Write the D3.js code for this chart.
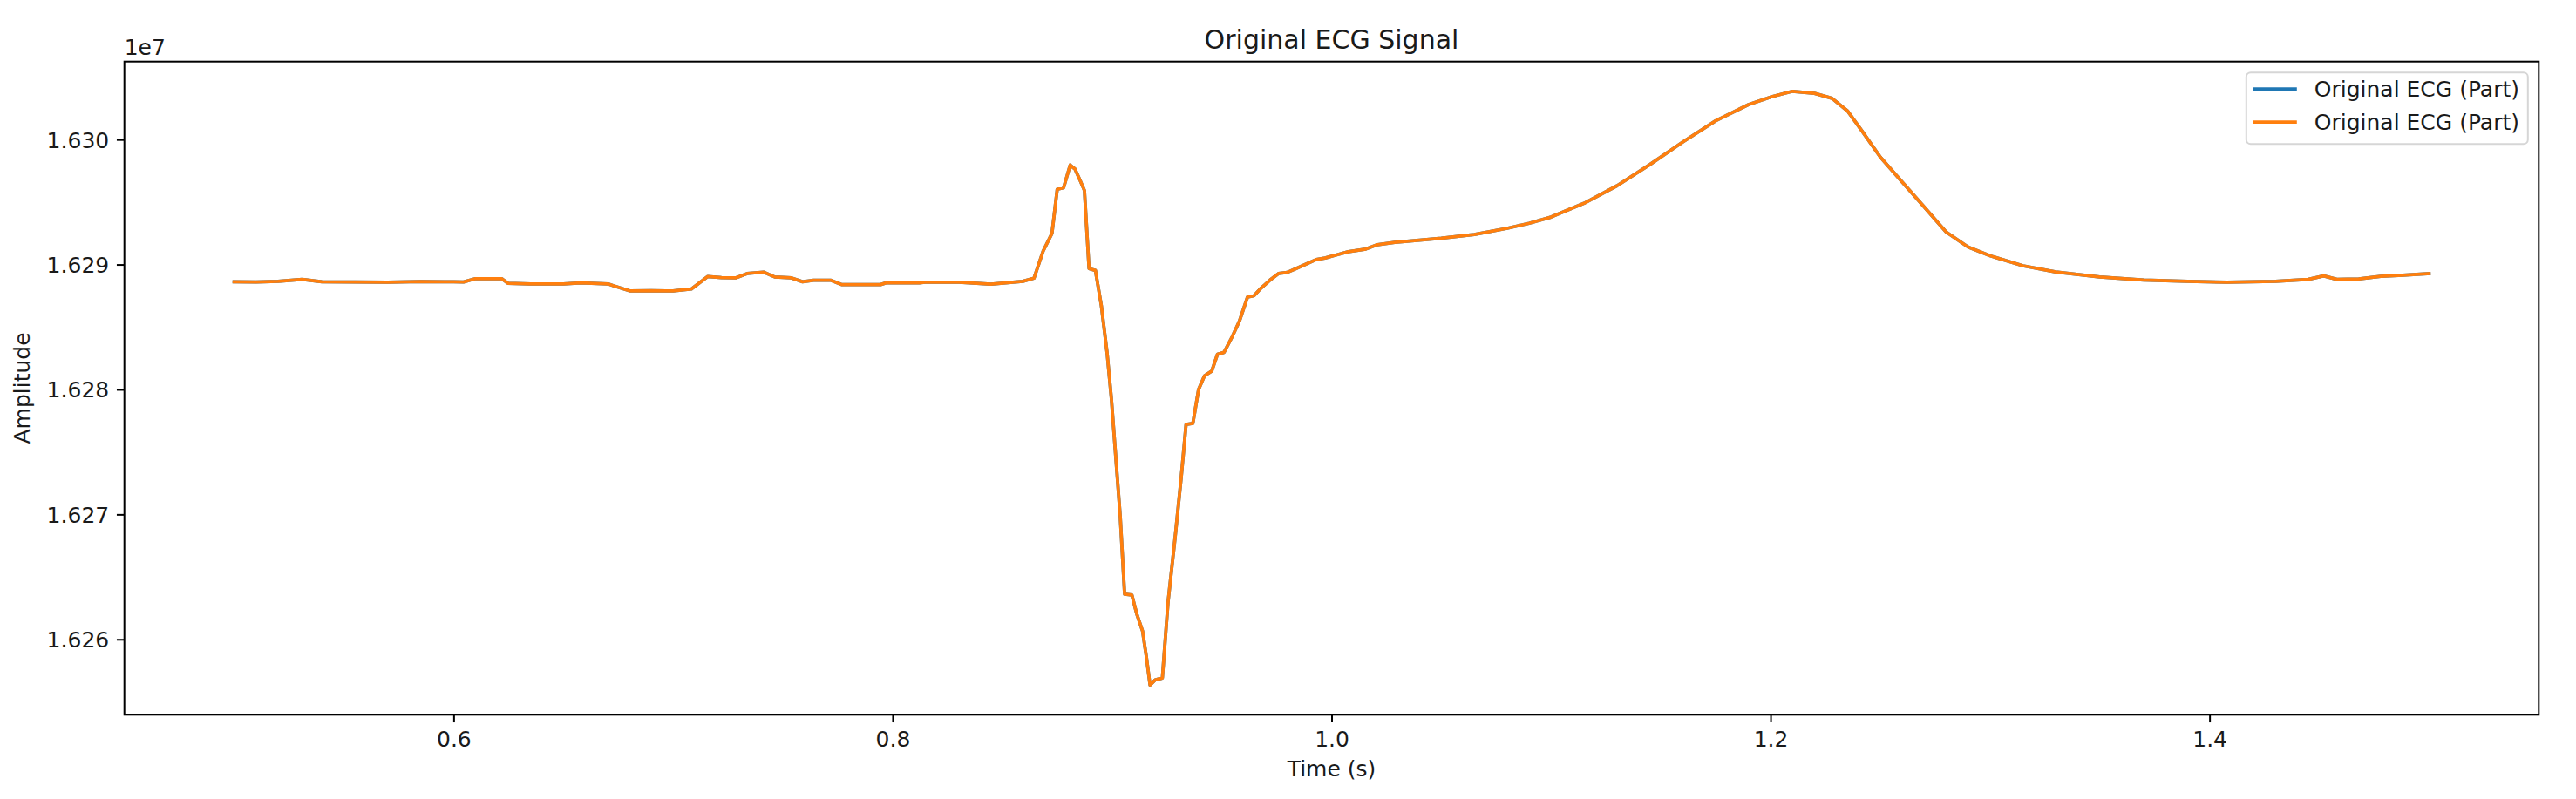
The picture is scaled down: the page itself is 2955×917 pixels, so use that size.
<!DOCTYPE html>
<html>
<head>
<meta charset="utf-8">
<script src="https://cdn.jsdelivr.net/npm/d3@7"></script>
<style>
  html, body { margin: 0; padding: 0; background: #ffffff; }
  svg { display: block; }
  text { font-family: "DejaVu Sans", sans-serif; fill: #1a1a1a; }
</style>
</head>
<body>
<svg id="chart" width="2955" height="917"></svg>
<script>
// ---- data ----
const timeSec = [
  0.500, 0.510, 0.520, 0.531, 0.540, 0.555, 0.570, 0.585, 0.600, 0.6045,
  0.6096, 0.622, 0.6247, 0.635, 0.650, 0.658, 0.6703, 0.6729, 0.6805, 0.690,
  0.700, 0.7083, 0.7158, 0.722, 0.7285, 0.7337, 0.7412, 0.7463, 0.7539, 0.759,
  0.764, 0.7717, 0.7767, 0.7945, 0.797, 0.8122, 0.8147, 0.8302, 0.8448, 0.8593,
  0.8644, 0.8686, 0.8726, 0.8750, 0.8779, 0.8809, 0.8831, 0.8855, 0.8874, 0.8895,
  0.8924, 0.8951, 0.8977, 0.8997, 0.9017, 0.9037, 0.9057, 0.9090, 0.9112, 0.9139,
  0.9156, 0.9173, 0.9196, 0.9229, 0.9255, 0.9288, 0.9315, 0.9337, 0.9368, 0.9394,
  0.9421, 0.9454, 0.9480, 0.9510, 0.9547, 0.9580, 0.9617, 0.9646, 0.9679, 0.9719,
  0.9758, 0.9798, 0.9838, 0.9891, 0.9930, 0.9970, 1.0023, 1.0076, 1.0156, 1.0209,
  1.0288, 1.040, 1.050, 1.065, 1.080, 1.090, 1.100, 1.115, 1.130, 1.145,
  1.160, 1.175, 1.190, 1.200, 1.210, 1.220, 1.228, 1.235, 1.2416, 1.250,
  1.260, 1.270, 1.280, 1.290, 1.300, 1.315, 1.330, 1.350, 1.370, 1.390,
  1.408, 1.430, 1.445, 1.452, 1.458, 1.468, 1.478, 1.488, 1.500
];
const amplitude = [
  16288625, 16288600, 16288650, 16288811, 16288620, 16288600, 16288580, 16288640, 16288620, 16288600,
  16288858, 16288858, 16288500, 16288438, 16288450, 16288530, 16288450, 16288300, 16287879, 16287900,
  16287880, 16288042, 16289044, 16288950, 16288928, 16289277, 16289394, 16289000, 16288928, 16288620,
  16288741, 16288741, 16288400, 16288392, 16288531, 16288531, 16288578, 16288587, 16288433, 16288650,
  16288902, 16291084, 16292489, 16296017, 16296140, 16297952, 16297640, 16296706, 16295923, 16289679,
  16289523, 16286713, 16282967, 16279223, 16274539, 16269858, 16263614, 16263553, 16262054, 16260650,
  16258622, 16256341, 16256747, 16256902, 16262991, 16268295, 16272979, 16277194, 16277287, 16280000,
  16281095, 16281469, 16282811, 16282967, 16284217, 16285466, 16287400, 16287494, 16288119, 16288742,
  16289274, 16289368, 16289679, 16290086, 16290398, 16290523, 16290773, 16291022, 16291240, 16291583,
  16291770, 16291950, 16292100, 16292400, 16292900, 16293300, 16293800, 16294900, 16296300, 16298000,
  16299800, 16301500, 16302800, 16303400, 16303863, 16303700, 16303300, 16302300, 16300700, 16298600,
  16296600, 16294600, 16292600, 16291400, 16290700, 16289900, 16289400, 16289000, 16288750, 16288650,
  16288580, 16288650, 16288811, 16289090, 16288811, 16288850, 16289050, 16289150, 16289277
];
const xTicks = [0.6, 0.8, 1.0, 1.2, 1.4];
const yTicks = [16260000, 16270000, 16280000, 16290000, 16300000];
const seriesNames = ["Original ECG (Part)", "Original ECG (Part)"];
const seriesColors = ["#1f77b4", "#ff7f0e"];
const titleText = "Original ECG Signal";
const xLabelText = "Time (s)";
const yLabelText = "Amplitude";
const offsetText = "1e7";

// ---- layout ----
const W = 2955, H = 917;
const plot = { left: 142.7, right: 2912.3, top: 70.7, bottom: 820.3 };
const fs = 25;          // 10pt at this scale
const tickLen = 8.75, tickPad = 8.75;

const points = timeSec.map((t, i) => ({ t, v: amplitude[i] }));

const xMin = d3.min(timeSec), xMax = d3.max(timeSec);
const yMin = d3.min(amplitude), yMax = d3.max(amplitude);
const xm = (xMax - xMin) * 0.05, ym = (yMax - yMin) * 0.05;

const x = d3.scaleLinear().domain([xMin - xm, xMax + xm]).range([plot.left, plot.right]);
const y = d3.scaleLinear().domain([yMin - ym, yMax + ym]).range([plot.bottom, plot.top]);

const svg = d3.select("#chart");
svg.append("rect").attr("width", W).attr("height", H).attr("fill", "#ffffff");

// clip for lines
svg.append("clipPath").attr("id", "clip")
  .append("rect")
  .attr("x", plot.left).attr("y", plot.top)
  .attr("width", plot.right - plot.left).attr("height", plot.bottom - plot.top);

const line = d3.line().x(d => x(d.t)).y(d => y(d.v));

const lines = svg.append("g").attr("clip-path", "url(#clip)");
seriesColors.forEach((c) => {
  lines.append("path")
    .datum(points)
    .attr("fill", "none")
    .attr("stroke", c)
    .attr("stroke-width", 3.75)
    .attr("stroke-linejoin", "round")
    .attr("stroke-linecap", "square")
    .attr("d", line);
});

// axes
const xAxis = d3.axisBottom(x).tickValues(xTicks).tickFormat(d3.format(".1f"))
  .tickSize(tickLen).tickPadding(tickPad);
const yAxis = d3.axisLeft(y).tickValues(yTicks).tickFormat(d => (d / 1e7).toFixed(3))
  .tickSize(tickLen).tickPadding(tickPad);

const gx = svg.append("g").attr("transform", `translate(0,${plot.bottom})`).call(xAxis);
const gy = svg.append("g").attr("transform", `translate(${plot.left},0)`).call(yAxis);
[gx, gy].forEach(g => {
  g.select(".domain").remove();
  g.selectAll(".tick line").attr("stroke", "#000").attr("stroke-width", 2);
  g.selectAll(".tick text").attr("font-size", fs).attr("font-family", "DejaVu Sans").attr("fill", "#1a1a1a");
});
gx.selectAll(".tick text").attr("dy", "0.73em").attr("y", tickLen + tickPad + 1);
gy.selectAll(".tick text").attr("dy", "0.36em");

// spines
svg.append("rect")
  .attr("x", plot.left).attr("y", plot.top)
  .attr("width", plot.right - plot.left).attr("height", plot.bottom - plot.top)
  .attr("fill", "none").attr("stroke", "#000").attr("stroke-width", 2);

// offset text
svg.append("text").attr("x", plot.left).attr("y", 63)
  .attr("font-size", fs).text(offsetText);

// title
svg.append("text").attr("x", (plot.left + plot.right) / 2).attr("y", 56)
  .attr("text-anchor", "middle").attr("font-size", 30).text(titleText);

// axis labels
svg.append("text").attr("x", (plot.left + plot.right) / 2).attr("y", 891)
  .attr("text-anchor", "middle").attr("font-size", fs).text(xLabelText);
svg.append("text")
  .attr("transform", `translate(34,${(plot.top + plot.bottom) / 2}) rotate(-90)`)
  .attr("text-anchor", "middle").attr("font-size", fs).text(yLabelText);

// legend
const lg = { right: plot.right - 12.5, top: plot.top + 12.5, width: 323, height: 82 };
const legend = svg.append("g");
legend.append("rect")
  .attr("x", lg.right - lg.width).attr("y", lg.top)
  .attr("width", lg.width).attr("height", lg.height)
  .attr("rx", 5).attr("ry", 5)
  .attr("fill", "#ffffff").attr("fill-opacity", 0.8)
  .attr("stroke", "#d6d6d6").attr("stroke-width", 2);
const rowY = d3.scalePoint().domain(d3.range(seriesNames.length)).range([lg.top + 19, lg.top + 57]);
seriesNames.forEach((name, i) => {
  const cy = rowY(i);
  const lx = lg.right - lg.width + 8;
  legend.append("line")
    .attr("x1", lx).attr("x2", lx + 50)
    .attr("y1", cy).attr("y2", cy)
    .attr("stroke", seriesColors[i]).attr("stroke-width", 3.75);
  legend.append("text")
    .attr("x", lx + 70).attr("y", cy).attr("dy", "0.36em")
    .attr("font-size", fs).text(name);
});
</script>
</body>
</html>
